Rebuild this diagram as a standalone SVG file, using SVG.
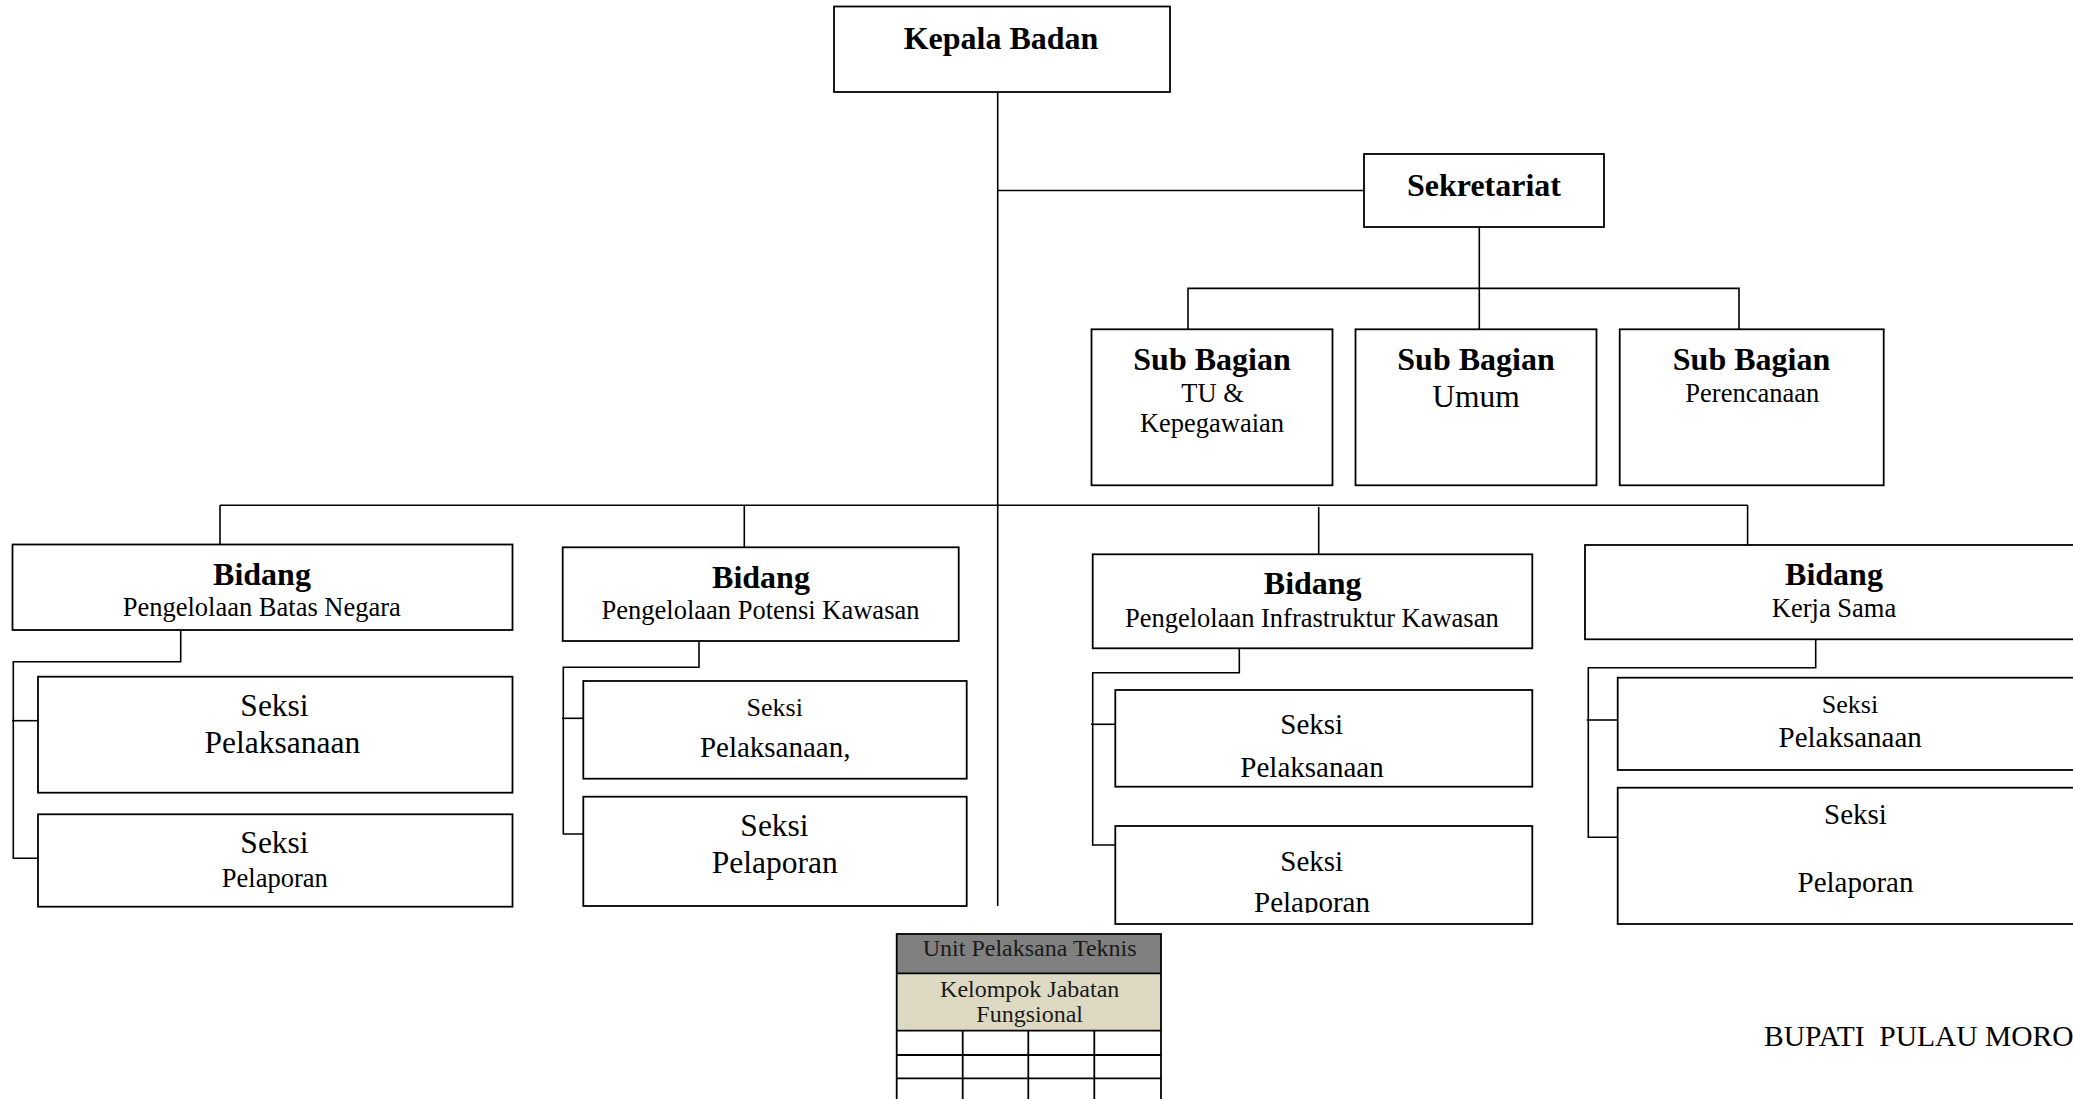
<svg xmlns="http://www.w3.org/2000/svg" width="2073" height="1099" viewBox="0 0 2073 1099">
<style>
text{font-family:"Liberation Serif","Times New Roman",serif;fill:#000;text-anchor:middle}
.b{font-weight:bold;font-size:32px}
.s26{font-size:26.5px}
.s29{font-size:29px}
.s31{font-size:31.5px}
.t24{font-size:24px;fill:#1a1a1a}
.box{fill:#fff;stroke:#000;stroke-width:1.8}
.ln{fill:none;stroke:#000;stroke-width:1.6}
.grid{fill:none;stroke:#000;stroke-width:1.8}
</style>
<defs>
<clipPath id="c3a"><rect x="1100" y="680" width="440" height="97.5"/></clipPath>
<clipPath id="c3b"><rect x="1100" y="820" width="440" height="93"/></clipPath>
</defs>
<rect width="2073" height="1099" fill="#fff"/>

<g id="connectors">
<line class="ln" x1="997.7" y1="92" x2="997.7" y2="906"/>
<line class="ln" x1="997.7" y1="190.5" x2="1364" y2="190.5"/>
<line class="ln" x1="1479.3" y1="227" x2="1479.3" y2="329"/>
<polyline class="ln" points="1188,329 1188,288.4 1739,288.4 1739,329"/>
<line class="ln" x1="220" y1="505.2" x2="1747.6" y2="505.2"/>
<line class="ln" x1="220" y1="505.2" x2="220" y2="544.5"/>
<line class="ln" x1="744.3" y1="505.2" x2="744.3" y2="547.3"/>
<line class="ln" x1="1318.7" y1="507" x2="1318.7" y2="554.3"/>
<line class="ln" x1="1747.6" y1="505.2" x2="1747.6" y2="545"/>
<!-- Bidang 1 -->
<polyline class="ln" points="180.7,630 180.7,661.7 13.3,661.7 13.3,858.3 38,858.3"/>
<line class="ln" x1="12" y1="720.7" x2="38" y2="720.7"/>
<!-- Bidang 2 -->
<polyline class="ln" points="699,641 699,667.3 563.3,667.3 563.3,834 583.3,834"/>
<line class="ln" x1="562" y1="718.3" x2="583.3" y2="718.3"/>
<!-- Bidang 3 -->
<polyline class="ln" points="1239.3,648.3 1239.3,672.7 1092.7,672.7 1092.7,845 1115.3,845"/>
<line class="ln" x1="1091" y1="724.3" x2="1115.3" y2="724.3"/>
<!-- Bidang 4 -->
<polyline class="ln" points="1815.7,639.3 1815.7,667.7 1588.3,667.7 1588.3,837.3 1617.7,837.3"/>
<line class="ln" x1="1586.7" y1="720" x2="1617.7" y2="720"/>
</g>

<g id="kepala">
<rect class="box" x="834" y="6.5" width="336" height="85.5"/>
<text class="b" x="1001" y="48.5">Kepala Badan</text>
</g>

<g id="sekretariat">
<rect class="box" x="1364" y="154" width="240" height="73"/>
<text class="b" x="1484" y="196">Sekretariat</text>
</g>

<g id="subbag-tu">
<rect class="box" x="1091.5" y="329.3" width="241" height="156"/>
<text class="b" x="1212" y="370">Sub Bagian</text>
<text class="s26" x="1212.5" y="401.7">TU &amp;</text>
<text class="s26" x="1212" y="431.7">Kepegawaian</text>
</g>

<g id="subbag-umum">
<rect class="box" x="1355.5" y="329.3" width="241" height="156"/>
<text class="b" x="1476" y="370">Sub Bagian</text>
<text class="s31" x="1476" y="407.3">Umum</text>
</g>

<g id="subbag-perencanaan">
<rect class="box" x="1619.7" y="329.3" width="264" height="156"/>
<text class="b" x="1751.5" y="370">Sub Bagian</text>
<text class="s26" x="1752.3" y="401.7">Perencanaan</text>
</g>

<g id="bidang1">
<rect class="box" x="12.5" y="544.5" width="500" height="85.5"/>
<text class="b" x="262" y="585">Bidang</text>
<text class="s26" x="261.8" y="616">Pengelolaan Batas Negara</text>
</g>
<g id="seksi1a">
<rect class="box" x="38" y="676.7" width="474.5" height="116"/>
<text class="s31" x="274.5" y="715.7">Seksi</text>
<text class="s31" x="282.3" y="753.3">Pelaksanaan</text>
</g>
<g id="seksi1b">
<rect class="box" x="38" y="814.3" width="474.5" height="92.4"/>
<text class="s31" x="274.5" y="853.3">Seksi</text>
<text class="s26" x="274.8" y="886.7">Pelaporan</text>
</g>

<g id="bidang2">
<rect class="box" x="562.7" y="547.3" width="396" height="93.7"/>
<text class="b" x="761" y="587.7">Bidang</text>
<text class="s26" x="760.5" y="619.3">Pengelolaan Potensi Kawasan</text>
</g>
<g id="seksi2a">
<rect class="box" x="583.3" y="681" width="383.4" height="97.7"/>
<text style="font-size:26px" x="774.7" y="715.7">Seksi</text>
<text class="s29" x="775.2" y="756.7">Pelaksanaan,</text>
</g>
<g id="seksi2b">
<rect class="box" x="583.3" y="796.7" width="383.4" height="109.3"/>
<text class="s31" x="774.5" y="836">Seksi</text>
<text class="s31" x="774.7" y="873.3">Pelaporan</text>
</g>

<g id="bidang3">
<rect class="box" x="1092.7" y="554.3" width="439.6" height="94"/>
<text class="b" x="1312.7" y="594.3">Bidang</text>
<text class="s26" x="1311.8" y="626.7">Pengelolaan Infrastruktur Kawasan</text>
</g>
<g id="seksi3a">
<rect class="box" x="1115.3" y="690" width="417" height="96.7"/>
<text class="s29" x="1311.7" y="734">Seksi</text>
<text class="s29" x="1312" y="777" clip-path="url(#c3a)">Pelaksanaan</text>
</g>
<g id="seksi3b">
<rect class="box" x="1115.3" y="826" width="417" height="98"/>
<text class="s29" x="1311.7" y="871">Seksi</text>
<text class="s29" x="1312" y="912" clip-path="url(#c3b)">Pelaporan</text>
</g>

<g id="bidang4">
<rect class="box" x="1585" y="545" width="500" height="94.3"/>
<text class="b" x="1834" y="585">Bidang</text>
<text class="s26" x="1834" y="617.3">Kerja Sama</text>
</g>
<g id="seksi4a">
<rect class="box" x="1617.7" y="677.7" width="470" height="92.3"/>
<text style="font-size:26px" x="1850" y="712.7">Seksi</text>
<text class="s29" x="1850.2" y="746.7">Pelaksanaan</text>
</g>
<g id="seksi4b">
<rect class="box" x="1617.7" y="787.7" width="470" height="136.3"/>
<text class="s29" x="1855.5" y="824.3">Seksi</text>
<text class="s29" x="1855.5" y="892.3">Pelaporan</text>
</g>

<g id="upt">
<rect x="896.7" y="934" width="264.3" height="39.3" fill="#808080"/>
<rect x="896.7" y="973.3" width="264.3" height="57.4" fill="#ddd9c3"/>
<rect class="grid" x="896.7" y="934" width="264.3" height="175"/>
<line class="grid" x1="896.7" y1="973.3" x2="1161" y2="973.3"/>
<line class="grid" x1="896.7" y1="1030.7" x2="1161" y2="1030.7"/>
<line class="grid" x1="896.7" y1="1055" x2="1161" y2="1055"/>
<line class="grid" x1="896.7" y1="1078.3" x2="1161" y2="1078.3"/>
<line class="grid" x1="962.7" y1="1030.7" x2="962.7" y2="1099"/>
<line class="grid" x1="1028.3" y1="1030.7" x2="1028.3" y2="1099"/>
<line class="grid" x1="1094.3" y1="1030.7" x2="1094.3" y2="1099"/>
<text class="t24" x="1029.7" y="956">Unit Pelaksana Teknis</text>
<text class="t24" x="1029.7" y="996.7">Kelompok Jabatan</text>
<text class="t24" x="1029.7" y="1022">Fungsional</text>
</g>

<g id="bupati">
<text style="font-size:29.5px;text-anchor:start;white-space:pre" x="1764" y="1046">BUPATI  PULAU MORO</text>
</g>
</svg>
